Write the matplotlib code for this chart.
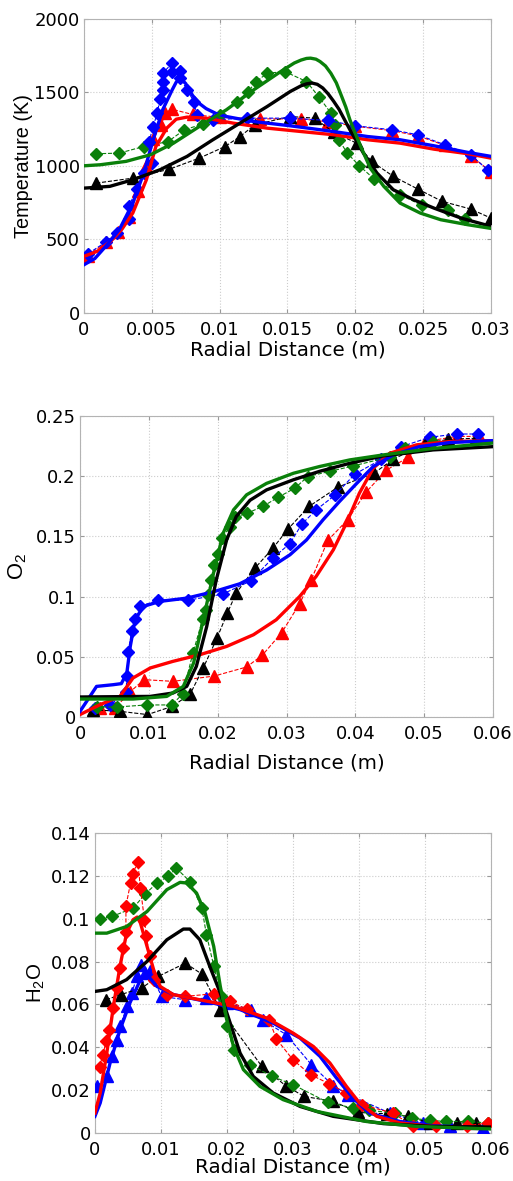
import numpy as np
import matplotlib
matplotlib.use("Agg")
import matplotlib.pyplot as plt

plt.rcParams["font.family"] = ["DejaVu Sans"]
plt.rcParams["mathtext.fontset"] = "custom"
plt.rcParams["mathtext.rm"] = "Liberation Sans"
plt.rcParams["mathtext.it"] = "Liberation Sans:italic"

# -------------------------
# Panel 1: temperature
# -------------------------
T_blue_exp_x = [0.0003, 0.0016, 0.0024, 0.0033, 0.0033, 0.0039, 0.0044, 0.0050, 0.0048, 0.0051,
                0.0054, 0.0056, 0.0058, 0.0058, 0.0058, 0.0065, 0.0065, 0.0071, 0.0071, 0.0076,
                0.0081, 0.0083, 0.0095, 0.0120, 0.0152, 0.0180, 0.0200, 0.0227, 0.0246, 0.0266,
                0.0285, 0.0298]
T_blue_exp_y = [403, 482, 544, 639, 725, 843, 950, 1019, 1166, 1268,
                1359, 1454, 1517, 1574, 1630, 1699, 1642, 1647, 1597, 1517,
                1438, 1348, 1314, 1325, 1325, 1309, 1273, 1246, 1212, 1144,
                1076, 969]
T_red_exp_x = [0.0003, 0.0016, 0.0025, 0.0033, 0.0040, 0.0046, 0.0051, 0.0057, 0.0060, 0.0065,
               0.0080, 0.0100, 0.0130, 0.0160, 0.0180, 0.0200, 0.0227, 0.0246, 0.0266, 0.0285,
               0.0300]
T_red_exp_y = [390, 480, 550, 650, 830, 1000, 1180, 1280, 1360, 1385,
               1350, 1330, 1320, 1320, 1300, 1270, 1240, 1205, 1140, 1070,
               960]
T_green_exp_x = [0.0009, 0.0026, 0.0044, 0.0062, 0.0074, 0.0088, 0.0100, 0.0113, 0.0121, 0.0127,
                 0.0135, 0.0148, 0.0164, 0.0173, 0.0182, 0.0185, 0.0188, 0.0194, 0.0203, 0.0214,
                 0.0233, 0.0249, 0.0268, 0.0281]
T_green_exp_y = [1083, 1087, 1132, 1166, 1246, 1286, 1348, 1438, 1506, 1574,
                 1630, 1642, 1574, 1472, 1359, 1280, 1178, 1087, 1001, 910,
                 804, 732, 698, 639]
T_black_exp_x = [0.0009, 0.0036, 0.0063, 0.0085, 0.0104, 0.0115, 0.0126, 0.0152, 0.0170, 0.0184,
                 0.0201, 0.0212, 0.0228, 0.0246, 0.0264, 0.0285, 0.0300]
T_black_exp_y = [883, 917, 978, 1053, 1132, 1200, 1280, 1336, 1325, 1228,
                 1155, 1031, 929, 843, 759, 707, 645]

T_blue_sim_x = [0.0, 0.0008, 0.0016, 0.0026, 0.0036, 0.0044, 0.0051, 0.0058, 0.0065, 0.0068,
                0.0070, 0.0072, 0.0075, 0.0080, 0.0085, 0.0090, 0.0097, 0.0105, 0.0125, 0.0152,
                0.0184, 0.0209, 0.0233, 0.0258, 0.0283, 0.0300]
T_blue_sim_y = [328, 370, 453, 566, 747, 951, 1178, 1382, 1517, 1570,
                1590, 1588, 1560, 1480, 1425, 1390, 1358, 1336, 1302, 1273,
                1234, 1200, 1178, 1137, 1092, 1065]
T_red_sim_x = [0.0, 0.0010, 0.0020, 0.0028, 0.0036, 0.0046, 0.0053, 0.0061, 0.0068, 0.0076,
               0.0090, 0.0110, 0.0135, 0.0160, 0.0184, 0.0209, 0.0233, 0.0258, 0.0283, 0.0300]
T_red_sim_y = [385, 420, 490, 570, 680, 906, 1132, 1257, 1318, 1332,
               1325, 1291, 1257, 1234, 1212, 1178, 1155, 1114, 1083, 1053]
T_green_sim_x = [0.0, 0.0012, 0.0031, 0.0049, 0.0066, 0.0085, 0.0105, 0.0125, 0.0145, 0.0155,
                 0.0160, 0.0164, 0.0167, 0.0171, 0.0174, 0.0178, 0.0182, 0.0186, 0.0189, 0.0193,
                 0.0196, 0.0200, 0.0204, 0.0211, 0.0221, 0.0233, 0.0248, 0.0263, 0.0283, 0.0300]
T_green_sim_y = [1001, 1008, 1031, 1076, 1155, 1268, 1382, 1517, 1642, 1700,
                 1720, 1731, 1733, 1726, 1710, 1680, 1630, 1565, 1495, 1400,
                 1314, 1220, 1132, 985, 861, 747, 679, 634, 600, 575]
T_black_sim_x = [0.0, 0.0019, 0.0036, 0.0056, 0.0076, 0.0095, 0.0115, 0.0135, 0.0152, 0.0160,
                 0.0164, 0.0168, 0.0172, 0.0176, 0.0180, 0.0184, 0.0188, 0.0196, 0.0206, 0.0216,
                 0.0228, 0.0243, 0.0258, 0.0278, 0.0300]
T_black_sim_y = [849, 861, 906, 974, 1065, 1178, 1291, 1404, 1506, 1545,
                 1558, 1564, 1555, 1530, 1490, 1440, 1385, 1246, 1087, 951,
                 838, 770, 713, 645, 589]

# -------------------------
# Panel 2: O2
# -------------------------
O2_blue_exp_x = [0.0022, 0.0044, 0.0067, 0.0068, 0.0070, 0.0075, 0.0080, 0.0087, 0.0114, 0.0157,
                 0.0207, 0.0248, 0.0280, 0.0305, 0.0322, 0.0343, 0.0370, 0.0399, 0.0438, 0.0467,
                 0.0508, 0.0547, 0.0578]
O2_blue_exp_y = [0.0075, 0.010, 0.021, 0.034, 0.054, 0.071, 0.081, 0.092, 0.097, 0.097,
                 0.102, 0.113, 0.132, 0.144, 0.160, 0.172, 0.184, 0.2016, 0.214, 0.2245,
                 0.2323, 0.235, 0.235]
O2_red_exp_x = [0.0029, 0.0051, 0.0073, 0.0093, 0.0135, 0.0195, 0.0242, 0.0265, 0.0293, 0.0319,
                0.0336, 0.0360, 0.0389, 0.0416, 0.0445, 0.0477, 0.0501, 0.0547, 0.0580]
O2_red_exp_y = [0.0075, 0.0075, 0.021, 0.031, 0.0296, 0.034, 0.0415, 0.0514, 0.070, 0.094,
                0.114, 0.1466, 0.164, 0.187, 0.205, 0.2157, 0.2287, 0.233, 0.233]
O2_green_exp_x = [0.0024, 0.0053, 0.0097, 0.0133, 0.0149, 0.0164, 0.0178, 0.0183, 0.0186, 0.0190,
                  0.0195, 0.0201, 0.0206, 0.0218, 0.0225, 0.0242, 0.0266, 0.0288, 0.0312, 0.0331,
                  0.0363, 0.0397, 0.0450, 0.0472, 0.0513]
O2_green_exp_y = [0.0083, 0.0083, 0.010, 0.010, 0.019, 0.053, 0.081, 0.089, 0.1015, 0.114,
                  0.126, 0.135, 0.1485, 0.158, 0.166, 0.169, 0.175, 0.1825, 0.190, 0.1997,
                  0.204, 0.2085, 0.216, 0.223, 0.2287]
O2_black_exp_x = [0.0019, 0.0058, 0.0098, 0.0134, 0.0160, 0.0179, 0.0199, 0.0214, 0.0227, 0.0254,
                  0.0280, 0.0302, 0.0333, 0.0375, 0.0427, 0.0455, 0.0501, 0.0535, 0.0576]
O2_black_exp_y = [0.006, 0.0047, 0.002, 0.0088, 0.019, 0.0407, 0.0655, 0.0863, 0.103, 0.1236,
                  0.140, 0.156, 0.175, 0.191, 0.2024, 0.214, 0.227, 0.2306, 0.2315]

O2_blue_sim_x = [0.0, 0.0012, 0.0024, 0.0048, 0.0060, 0.0068, 0.0073, 0.0080, 0.0092, 0.0116,
                 0.0155, 0.0194, 0.0232, 0.0271, 0.0305, 0.0329, 0.0353, 0.0377, 0.0402, 0.0426,
                 0.0455, 0.0493, 0.0537, 0.0600]
O2_blue_sim_y = [0.0047, 0.015, 0.0254, 0.0268, 0.0277, 0.0365, 0.0586, 0.0807, 0.0918, 0.096,
                 0.0987, 0.104, 0.1106, 0.122, 0.1347, 0.147, 0.1637, 0.179, 0.194, 0.208,
                 0.2176, 0.2245, 0.2279, 0.2295]
O2_red_sim_x = [0.0, 0.0029, 0.0058, 0.0077, 0.0102, 0.0135, 0.0174, 0.0213, 0.0252, 0.0285,
                0.0319, 0.0343, 0.0368, 0.0387, 0.0406, 0.0426, 0.0450, 0.0489, 0.0537, 0.0600]
O2_red_sim_y = [0.002, 0.0102, 0.0171, 0.0324, 0.0407, 0.0462, 0.0517, 0.0586, 0.0683, 0.0807,
                0.100, 0.1167, 0.1388, 0.161, 0.186, 0.2066, 0.219, 0.226, 0.2287, 0.2295]
O2_green_sim_x = [0.0, 0.0077, 0.0126, 0.0150, 0.0165, 0.0179, 0.0194, 0.0208, 0.0223, 0.0242,
                  0.0271, 0.0310, 0.0348, 0.0392, 0.0440, 0.0513, 0.0600]
O2_green_sim_y = [0.0149, 0.0149, 0.0171, 0.0254, 0.0448, 0.0807, 0.1195, 0.1527, 0.172, 0.1845,
                  0.194, 0.2024, 0.208, 0.2135, 0.2176, 0.2230, 0.2275]
O2_black_sim_x = [0.0, 0.0102, 0.0135, 0.0155, 0.0169, 0.0184, 0.0198, 0.0213, 0.0227, 0.0247,
                  0.0271, 0.0310, 0.0348, 0.0392, 0.0440, 0.0513, 0.0600]
O2_black_sim_y = [0.0166, 0.0171, 0.0199, 0.0254, 0.042, 0.075, 0.114, 0.147, 0.1665, 0.180,
                  0.1886, 0.197, 0.204, 0.2107, 0.2168, 0.2218, 0.2245]

# -------------------------
# Panel 3: H2O
# -------------------------
H2O_red_exp_x = [0.0007, 0.0012, 0.0017, 0.0021, 0.0028, 0.0034, 0.0038, 0.0043, 0.0047, 0.0047,
                 0.0054, 0.0057, 0.0065, 0.0069, 0.0075, 0.0078, 0.0083, 0.0090, 0.0109, 0.0137,
                 0.0180, 0.0204, 0.0230, 0.0264, 0.0275, 0.0300, 0.0327, 0.0355, 0.0381, 0.0404,
                 0.0452, 0.0482, 0.0517, 0.0563, 0.0596]
H2O_red_exp_y = [0.0308, 0.0366, 0.0428, 0.0482, 0.0583, 0.0677, 0.077, 0.0863, 0.094, 0.106,
                 0.1167, 0.121, 0.1263, 0.1143, 0.0996, 0.0918, 0.0824, 0.0716, 0.0646, 0.0638,
                 0.065, 0.0614, 0.0579, 0.0529, 0.0439, 0.0342, 0.0272, 0.023, 0.0187, 0.0132,
                 0.0093, 0.0031, 0.0031, 0.0034, 0.0047]
H2O_blue_exp_x = [0.0003, 0.0018, 0.0026, 0.0033, 0.0038, 0.0049, 0.0056, 0.0064, 0.0070, 0.0076,
                  0.0083, 0.0101, 0.0137, 0.0168, 0.0200, 0.0236, 0.0255, 0.0290, 0.0328, 0.0361,
                  0.0384, 0.0447, 0.0497, 0.0538, 0.0588]
H2O_blue_exp_y = [0.0218, 0.0264, 0.0358, 0.0436, 0.050, 0.0591, 0.0653, 0.0734, 0.0786, 0.0747,
                  0.0754, 0.0638, 0.0622, 0.063, 0.0607, 0.0576, 0.0526, 0.0459, 0.0319, 0.0221,
                  0.0179, 0.0093, 0.0047, 0.0031, 0.0023]
H2O_green_exp_x = [0.0008, 0.0026, 0.0058, 0.0076, 0.0094, 0.0111, 0.0123, 0.0144, 0.0162, 0.0169,
                   0.0180, 0.0191, 0.0200, 0.0210, 0.0235, 0.0269, 0.0300, 0.0353, 0.0391, 0.0416,
                   0.0454, 0.0480, 0.0507, 0.0532, 0.0565, 0.0596]
H2O_green_exp_y = [0.0999, 0.1011, 0.105, 0.1115, 0.1167, 0.1198, 0.1237, 0.1174, 0.105, 0.0926,
                   0.0781, 0.0638, 0.0498, 0.0389, 0.0319, 0.0264, 0.0226, 0.0143, 0.0117, 0.0106,
                   0.0093, 0.007, 0.0059, 0.0054, 0.0054, 0.0047]
H2O_black_exp_x = [0.0017, 0.0039, 0.0071, 0.0096, 0.0137, 0.0162, 0.0190, 0.0253, 0.0289, 0.0317,
                   0.0361, 0.0399, 0.0442, 0.0475, 0.0507, 0.0548, 0.0578]
H2O_black_exp_y = [0.0622, 0.0646, 0.0677, 0.0731, 0.0793, 0.0742, 0.0576, 0.0311, 0.0221, 0.0171,
                   0.0148, 0.0096, 0.009, 0.0078, 0.0047, 0.0047, 0.0047]

H2O_red_sim_x = [0.0, 0.0008, 0.0018, 0.0028, 0.0038, 0.0048, 0.0058, 0.0064, 0.0069, 0.0079,
                 0.0089, 0.0099, 0.0119, 0.0159, 0.0210, 0.0260, 0.0300, 0.0331, 0.0356, 0.0381,
                 0.0401, 0.0427, 0.0462, 0.0512, 0.0600]
H2O_red_sim_y = [0.0093, 0.0187, 0.0373, 0.0591, 0.0778, 0.0933, 0.0996, 0.1008, 0.098, 0.0871,
                 0.0762, 0.0684, 0.0646, 0.0622, 0.0591, 0.0537, 0.0467, 0.0404, 0.0327, 0.0218,
                 0.014, 0.0078, 0.0047, 0.0031, 0.0023]
H2O_blue_sim_x = [0.0, 0.0008, 0.0023, 0.0038, 0.0053, 0.0069, 0.0079, 0.0094, 0.0119, 0.0169,
                  0.0220, 0.0270, 0.0311, 0.0341, 0.0366, 0.0391, 0.0416, 0.0462, 0.0512, 0.0600]
H2O_blue_sim_y = [0.0078, 0.014, 0.0327, 0.0482, 0.0607, 0.0716, 0.0739, 0.0684, 0.0646, 0.0614,
                  0.0576, 0.0513, 0.0443, 0.0358, 0.0257, 0.0163, 0.0093, 0.0054, 0.0034, 0.0023]
H2O_green_sim_x = [0.0, 0.0018, 0.0048, 0.0079, 0.0109, 0.0129, 0.0139, 0.0154, 0.0167, 0.0180,
                   0.0190, 0.0200, 0.0210, 0.0225, 0.0250, 0.0285, 0.0336, 0.0411, 0.0487, 0.0600]
H2O_green_sim_y = [0.0933, 0.0933, 0.0964, 0.1034, 0.1136, 0.117, 0.1167, 0.112, 0.1027, 0.0871,
                   0.0684, 0.0529, 0.0404, 0.0296, 0.0218, 0.0156, 0.0101, 0.0054, 0.0031, 0.0019]
H2O_black_sim_x = [0.0, 0.0018, 0.0048, 0.0079, 0.0109, 0.0134, 0.0144, 0.0159, 0.0174, 0.0190,
                   0.0205, 0.0220, 0.0240, 0.0270, 0.0311, 0.0361, 0.0437, 0.0512, 0.0600]
H2O_black_sim_y = [0.0661, 0.0669, 0.0716, 0.0801, 0.0902, 0.0952, 0.0952, 0.0902, 0.0778, 0.0653,
                   0.0513, 0.0373, 0.0264, 0.0187, 0.0124, 0.0078, 0.0044, 0.0031, 0.0028]

T_xticks = [0, 0.005, 0.01, 0.015, 0.02, 0.025, 0.03]
T_xticklabels = ["0", "0.005", "0.01", "0.015", "0.02", "0.025", "0.03"]
O2_xticks = [0, 0.01, 0.02, 0.03, 0.04, 0.05, 0.06]
O2_xticklabels = ["0", "0.01", "0.02", "0.03", "0.04", "0.05", "0.06"]
T_yticks = [0, 500, 1000, 1500, 2000]
O2_yticks = [0, 0.05, 0.1, 0.15, 0.2, 0.25]
O2_yticklabels = ["0", "0.05", "0.1", "0.15", "0.2", "0.25"]
H2O_yticks = [0, 0.02, 0.04, 0.06, 0.08, 0.1, 0.12, 0.14]
H2O_yticklabels = ["0", "0.02", "0.04", "0.06", "0.08", "0.1", "0.12", "0.14"]

GREEN = "#0a800a"
FS = 13        # tick labels
FS_LAB = 14.3  # axis labels (matlab default is 1.1x ticks)
YLAB_FONT = "Liberation Sans"


def style_axes(ax, xlim, ylim, xticks, xlabels, yticks, ylabels):
    ax.set_xlim(*xlim)
    ax.set_ylim(*ylim)
    ax.set_xticks(xticks)
    ax.set_xticklabels(xlabels)
    ax.set_yticks(yticks)
    ax.set_yticklabels(ylabels)
    ax.grid(True, linestyle=":", color="0.8", linewidth=0.8)
    for s in ax.spines.values():
        s.set_color("0.7")
    ax.tick_params(direction="in", length=3, color="0.6", top=True, right=True,
                   labelsize=FS)
    ax.tick_params(axis="x", pad=6)
    ax.tick_params(axis="y", pad=3)
    ax.set_xlabel("Radial Distance (m)", fontsize=FS_LAB, labelpad=1)


def exp_line(ax, x, y, color, marker, ms, z):
    ax.plot(x, y, linestyle="--", color=color, linewidth=0.8, marker=marker,
            markersize=ms, markerfacecolor=color, markeredgecolor=color, zorder=z)


def sim_line(ax, x, y, color, z):
    ax.plot(x, y, linestyle="-", color=color, linewidth=2.4, zorder=z)


fig = plt.figure(figsize=(5.13, 11.81), dpi=100)

# top
ax1 = fig.add_axes([0.1637, 0.735, 0.7934, 0.249])
exp_line(ax1, T_red_exp_x, T_red_exp_y, "red", "^", 8, 3)
exp_line(ax1, T_black_exp_x, T_black_exp_y, "black", "^", 8, 3)
exp_line(ax1, T_green_exp_x, T_green_exp_y, GREEN, "D", 6.3, 3)
exp_line(ax1, T_blue_exp_x, T_blue_exp_y, "blue", "D", 6.3, 4)
sim_line(ax1, T_red_sim_x, T_red_sim_y, "red", 5)
sim_line(ax1, T_blue_sim_x, T_blue_sim_y, "blue", 5)
sim_line(ax1, T_black_sim_x, T_black_sim_y, "black", 5)
sim_line(ax1, T_green_sim_x, T_green_sim_y, GREEN, 5)
style_axes(ax1, (0, 0.03), (0, 2000), T_xticks, T_xticklabels, T_yticks,
           [str(v) for v in T_yticks])
ax1.set_ylabel("Temperature (K)", fontsize=FS_LAB, family=YLAB_FONT, labelpad=1)

# middle
ax2 = fig.add_axes([0.156, 0.3929, 0.805, 0.2549])
exp_line(ax2, O2_red_exp_x, O2_red_exp_y, "red", "^", 8, 3)
exp_line(ax2, O2_black_exp_x, O2_black_exp_y, "black", "^", 8, 3)
exp_line(ax2, O2_blue_exp_x, O2_blue_exp_y, "blue", "D", 6.3, 3)
exp_line(ax2, O2_green_exp_x, O2_green_exp_y, GREEN, "D", 6.3, 4)
sim_line(ax2, O2_red_sim_x, O2_red_sim_y, "red", 5)
sim_line(ax2, O2_blue_sim_x, O2_blue_sim_y, "blue", 5)
sim_line(ax2, O2_black_sim_x, O2_black_sim_y, "black", 5)
sim_line(ax2, O2_green_sim_x, O2_green_sim_y, GREEN, 5)
style_axes(ax2, (0, 0.06), (0, 0.25), O2_xticks, O2_xticklabels, O2_yticks, O2_yticklabels)
ax2.xaxis.labelpad = 7
ax2.set_ylabel("O$_2$", fontsize=FS_LAB + 1.5, family=YLAB_FONT, labelpad=5)

# bottom
ax3 = fig.add_axes([0.185, 0.0406, 0.772, 0.254])
exp_line(ax3, H2O_blue_exp_x, H2O_blue_exp_y, "blue", "^", 8, 3)
exp_line(ax3, H2O_black_exp_x, H2O_black_exp_y, "black", "^", 8, 3)
exp_line(ax3, H2O_green_exp_x, H2O_green_exp_y, GREEN, "D", 6.3, 3)
exp_line(ax3, H2O_red_exp_x, H2O_red_exp_y, "red", "D", 6.3, 4)
sim_line(ax3, H2O_blue_sim_x, H2O_blue_sim_y, "blue", 5)
sim_line(ax3, H2O_red_sim_x, H2O_red_sim_y, "red", 5)
sim_line(ax3, H2O_black_sim_x, H2O_black_sim_y, "black", 5)
sim_line(ax3, H2O_green_sim_x, H2O_green_sim_y, GREEN, 5)
style_axes(ax3, (0, 0.06), (0, 0.14), O2_xticks, O2_xticklabels, H2O_yticks, H2O_yticklabels)
ax3.xaxis.labelpad = -1
ax3.set_ylabel("H$_2$O", fontsize=FS_LAB + 0.5, family=YLAB_FONT, labelpad=3)

fig.savefig("out.png", dpi=100)
